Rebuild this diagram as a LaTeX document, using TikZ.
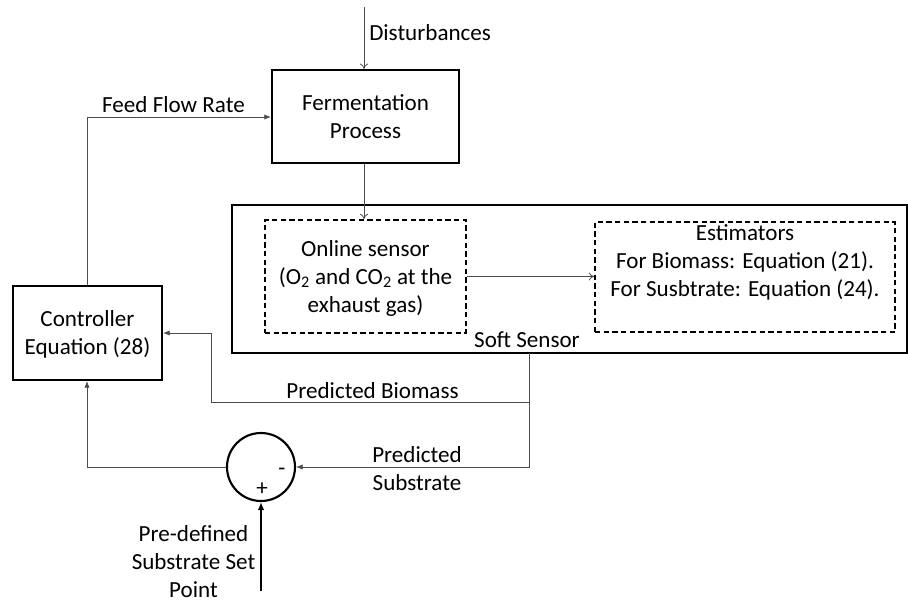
\documentclass[tikz,border=0pt]{standalone}
\usepackage{fontspec}
\setmainfont{Carlito}
\usetikzlibrary{arrows.meta}
\begin{document}
\begin{tikzpicture}[x=0.75pt,y=-0.75pt,
  every node/.style={font=\fontsize{17.3}{21}\selectfont},
  blk/.style={draw,line width=1.6pt,inner sep=0pt},
  dbox/.style={draw,line width=1.3pt,dash pattern=on 4pt off 2.5pt,inner sep=0pt},
  conn/.style={draw=black!70,line width=0.6pt},
  tri/.style={-{Latex[length=5pt,width=4pt]}},
  opn/.style={-{To[length=4pt,width=6pt]}},
  lbl/.style={inner sep=0pt,align=center}]
\useasboundingbox (0,0) rectangle (908,604);
% blocks
\node[blk,minimum width=187*0.75pt,minimum height=93*0.75pt] (fp) at (365.5,116.5) {};
\node[lbl] (fpt) at (365.5,117) {Fermentation\\Process};
\node[blk,minimum width=675*0.75pt,minimum height=148*0.75pt] (ss) at (569.5,279) {};
\node[lbl] (sst) at (527,340) {Soft Sensor};
\node[dbox,minimum width=201*0.75pt,minimum height=113*0.75pt] (os) at (365.5,276.5) {};
\node[lbl] (ost) at (365.5,278) {Online sensor\\(O\textsubscript{2} and CO\textsubscript{2} at the\\exhaust gas)};
\node[dbox,minimum width=300*0.75pt,minimum height=110*0.75pt] (es) at (745,277) {};
\node[lbl] (est) at (745,262) {Estimators\\For Biomass: Equation (21).\\For Susbtrate: Equation (24).};
\node[blk,minimum width=149*0.75pt,minimum height=94*0.75pt] (ctl) at (87.5,333) {};
\node[lbl] (ctlt) at (87.5,334) {Controller\\Equation (28)};
\node[draw,circle,line width=1.6pt,minimum size=68*0.75pt,inner sep=0pt] (sum) at (261,467) {};
\node[inner sep=0pt] (minus) at (282,472) {-};
\node[inner sep=0pt] (plus) at (262,489) {+};
% coordinates
\coordinate (dtop) at (364,7);
\coordinate (sp) at (261,591);
% connectors
\draw[conn,opn] (dtop) -- (dtop |- fp.north);
\node[lbl,anchor=west] (dl) at (369,33) {Disturbances};
\draw[conn,opn] (fp.south -| dtop) -- (dtop |- os.north);
\draw[conn,opn] (os.east) -- (es.west |- os.east);
\draw[conn,tri] (ctl.north -| 87,0) -- (87,117) -- (fp.west |- 0,117);
\node[lbl] (ffr) at (173.5,105) {Feed Flow Rate};
\draw[conn,tri] (529,353) -- (529,402) -- (211,402) -- (211,333) -- (ctl.east);
\node[lbl] (pb) at (372.5,391) {Predicted Biomass};
\draw[conn,tri] (529,402) -- (529,467) -- (sum.east);
\node[lbl] (ps) at (417,468.5) {Predicted\\Substrate};
\draw[conn,tri] (sum.west) -- (87,467) -- (ctl.south -| 87,0);
\draw[line width=1.8pt,-{Latex[length=6pt,width=5pt]}] (sp) -- (sum.south);
\node[lbl] (spt) at (193.5,562) {Pre-defined\\Substrate Set\\Point};
\end{tikzpicture}
\end{document}
